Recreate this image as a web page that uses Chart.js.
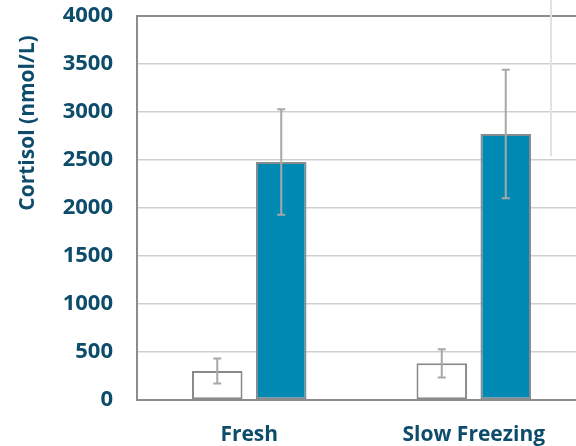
<!DOCTYPE html>
<html>
<head>
<meta charset="utf-8">
<script src="https://cdn.jsdelivr.net/npm/chart.js@4/dist/chart.umd.min.js"></script>
<style>
  html,body{margin:0;padding:0;background:#fff;overflow:hidden;}
  #wrap{position:relative;width:600px;height:446px;}
</style>
</head>
<body>
<div id="wrap"><canvas id="ch"></canvas></div>
<script>
// data
const categories = ['Fresh', 'Slow Freezing'];
const controlVals = [302, 382];
const controlErr  = [130, 147];
const treatedVals = [2479, 2771];
const treatedErr  = [550, 670];
const yTicks = [0, 500, 1000, 1500, 2000, 2500, 3000, 3500, 4000];
const yTitle = 'Cortisol (nmol/L)';

const TXT = '#0d4d6b';
const FONT = "'Open Sans', sans-serif";

// error bars drawn on top of the bars, plus the y title
const errBars = {
  id: 'errBars',
  afterDatasetsDraw(chart){
    const ctx = chart.ctx, y = chart.scales.y;
    chart.data.datasets.forEach((ds, i) => {
      const meta = chart.getDatasetMeta(i);
      meta.data.forEach((bar, j) => {
        const v = ds.data[j], e = ds.err[j];
        const top = y.getPixelForValue(v + e), bot = y.getPixelForValue(v - e);
        ctx.save();
        ctx.strokeStyle = '#a8a8a8'; ctx.lineWidth = 2;
        ctx.beginPath();
        ctx.moveTo(bar.x, top); ctx.lineTo(bar.x, bot);
        ctx.moveTo(bar.x - 4, top); ctx.lineTo(bar.x + 4, top);
        ctx.moveTo(bar.x - 4, bot); ctx.lineTo(bar.x + 4, bot);
        ctx.stroke();
        ctx.restore();
      });
    });
    // stray faint line at the top right of the original
    ctx.save();
    ctx.strokeStyle = '#e2e2e2'; ctx.lineWidth = 2;
    ctx.beginPath(); ctx.moveTo(551, 0); ctx.lineTo(551, 156); ctx.stroke();
    ctx.restore();
    // y axis title, sits above the middle like the original
    ctx.save();
    ctx.translate(28, 123); ctx.rotate(-Math.PI / 2);
    ctx.fillStyle = TXT; ctx.font = "bold 21px 'Open Sans', sans-serif";
    ctx.textAlign = 'center'; ctx.textBaseline = 'middle';
    ctx.fillText(yTitle, 0, 0);
    ctx.restore();
  }
};

new Chart(document.getElementById('ch'), {
  type: 'bar',
  data: {
    labels: categories,
    datasets: [
      { label: 'Control', data: controlVals, err: controlErr, backgroundColor: '#ffffff',
        borderColor: '#8a8a8a', borderWidth: 2, borderSkipped: false,
        categoryPercentage: 0.57, barPercentage: 0.79 },
      { label: 'Treated', data: treatedVals, err: treatedErr, backgroundColor: '#0089b3',
        borderColor: '#858c90', borderWidth: 2, borderSkipped: false,
        categoryPercentage: 0.57, barPercentage: 0.79 }
    ]
  },
  options: {
    responsive: true, maintainAspectRatio: false, animation: false,
    layout: { padding: { top: 0, right: 14, left: 0, bottom: 0 } },
    plugins: { legend: { display: false }, tooltip: { enabled: false } },
    scales: {
      x: {
        grid: { display: false, drawTicks: false },
        border: { color: '#8c8c8c', width: 2 },
        ticks: { color: TXT, font: { family: FONT, size: 21, weight: 'bold' }, padding: 22 },
        afterFit: s => { s.height = 46; }
      },
      y: {
        min: 0, max: 4000,
        afterBuildTicks: s => { s.ticks = yTicks.map(v => ({ value: v })); },
        grid: { color: c => c.tick && c.tick.value === 4000 ? '#8c8c8c' : '#cfcfcf',
                lineWidth: c => c.tick && c.tick.value === 4000 ? 2 : 1.5, drawTicks: false },
        border: { color: '#8c8c8c', width: 2 },
        ticks: { color: TXT, font: { family: FONT, size: 22, weight: 'bold' }, padding: 24,
                 callback: v => String(v) },
        afterFit: s => { s.width = 137; s.paddingTop = 16; s.paddingBottom = 0; }
      }
    }
  },
  plugins: [errBars]
});
</script>
</body>
</html>
